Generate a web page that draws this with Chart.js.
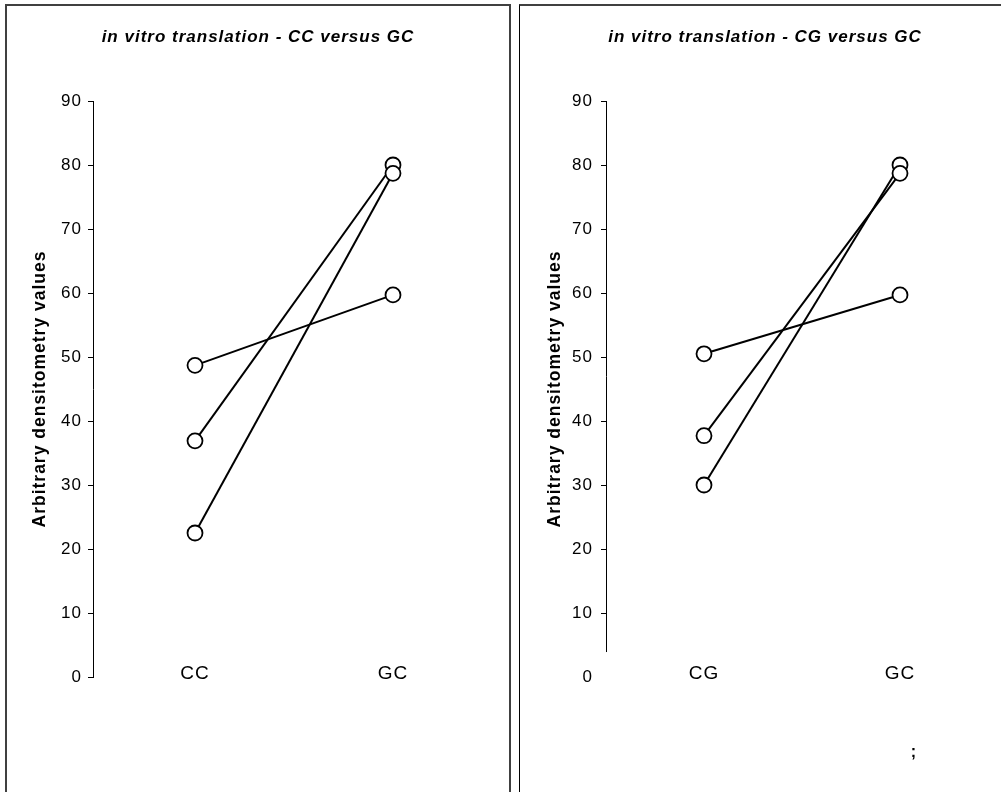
<!DOCTYPE html>
<html>
<head>
<meta charset="utf-8">
<title>in vitro translation</title>
<script src="https://cdn.jsdelivr.net/npm/chart.js@4.4.1/dist/chart.umd.min.js"></script>
<style>
  html, body { margin: 0; padding: 0; background: #fff; }
  body { width: 1001px; height: 792px; overflow: hidden; position: relative; }
  .panel { position: absolute; box-sizing: border-box; }
  #p1 { left: 5px; top: 4px; width: 506px; height: 820px; border: 2px solid #404040; }
  #p2 { left: 519px; top: 4px; width: 600px; height: 820px; border-top: 2px solid #404040; border-left: 1px solid #000; }
  canvas { position: absolute; }
  #c1 { left: 7px; top: 6px; }
  #c2 { left: 520px; top: 6px; }
</style>
</head>
<body>
<div class="panel" id="p1"></div>
<div class="panel" id="p2"></div>
<canvas id="c1" width="502" height="786"></canvas>
<canvas id="c2" width="490" height="786"></canvas>
<script>
// Y axis ticks shared by both panels
const yTicks = [0, 10, 20, 30, 40, 50, 60, 70, 80, 90];
const yTitle = 'Arbitrary densitometry values';

// Left panel: CC versus GC (each pair is one experiment)
const leftTitle = 'in vitro translation - CC versus GC';
const leftCategories = ['CC', 'GC'];
const leftFirst = [48.7, 22.5, 36.9];
const leftSecond = [59.7, 78.7, 80.0];

// Right panel: CG versus GC
const rightTitle = 'in vitro translation - CG versus GC';
const rightCategories = ['CG', 'GC'];
const rightFirst = [50.5, 37.7, 30.0];
const rightSecond = [59.7, 78.7, 80.0];

// The right panel's y axis line stops short of zero
const rightAxisEnd = 3.9;

const FONT = '"Liberation Sans", Arial, sans-serif';
Chart.defaults.font.family = FONT;
Chart.defaults.color = '#000';

// Slightly spaced lettering for all text
const spacing = {
  id: 'spacing',
  beforeDraw(chart) { chart.ctx.letterSpacing = '1px'; }
};

function makeChart(el, cfg) {
  const datasets = cfg.first.map((v, i) => ({
    data: [{ x: 0, y: v }, { x: 1, y: cfg.second[i] }],
    showLine: true,
    borderColor: '#000',
    borderWidth: 2,
    backgroundColor: '#fff',
    pointRadius: 7.5,
    pointBorderWidth: 1.8,
    pointBackgroundColor: '#fff',
    pointBorderColor: '#000',
    tension: 0
  }));

  const extra = {
    id: 'extra',
    afterDraw(chart) {
      const ctx = chart.ctx;
      const y = chart.scales.y;
      const area = chart.chartArea;
      ctx.save();
      if (!cfg.fullAxis) {
        ctx.strokeStyle = '#000';
        ctx.lineWidth = 1;
        ctx.beginPath();
        const x = Math.round(area.left) + 0.5;
        ctx.moveTo(x, y.getPixelForValue(90));
        ctx.lineTo(x, y.getPixelForValue(rightAxisEnd));
        ctx.stroke();
      }
      if (cfg.mark) {
        ctx.fillStyle = '#000';
        ctx.font = 'bold 16px ' + FONT;
        ctx.textAlign = 'center';
        ctx.textBaseline = 'alphabetic';
        ctx.fillText(cfg.mark.text, cfg.mark.x, cfg.mark.y);
      }
      ctx.restore();
    }
  };

  return new Chart(el, {
    type: 'scatter',
    data: { datasets },
    options: {
      responsive: false,
      animation: false,
      events: [],
      layout: { padding: 0, autoPadding: false },
      plugins: {
        legend: { display: false },
        tooltip: { enabled: false },
        title: {
          display: true,
          text: cfg.title,
          color: '#000',
          font: { family: FONT, size: 17, weight: 'bold', style: 'italic', lineHeight: 1.2 },
          padding: { top: 20.8, bottom: 53.8 }
        }
      },
      scales: {
        x: {
          type: 'linear',
          min: cfg.xMin,
          max: cfg.xMax,
          grid: { display: false },
          border: { display: false },
          afterBuildTicks: s => { s.ticks = cfg.categories.map((c, i) => ({ value: i })); },
          afterFit: s => { s.height = 115; },
          ticks: {
            mirror: true,
            padding: -8,
            color: '#000',
            font: { family: FONT, size: 19 },
            callback: v => cfg.categories[v] ?? ''
          }
        },
        y: {
          min: 0,
          max: 90,
          afterBuildTicks: s => { s.ticks = yTicks.map(v => ({ value: v })); },
          afterFit: s => { s.width = 86; },
          grid: {
            drawOnChartArea: false,
            drawTicks: true,
            tickLength: 5,
            lineWidth: 1,
            color: c => (!cfg.fullAxis && c.tick && c.tick.value === 0) ? 'rgba(0,0,0,0)' : '#000'
          },
          border: { display: cfg.fullAxis, color: '#000', width: 1 },
          ticks: {
            padding: cfg.tickPad,
            color: '#000',
            font: { family: FONT, size: 17 }
          },
          title: {
            display: true,
            text: yTitle,
            color: '#000',
            font: { family: FONT, size: 17.5, weight: 'bold', lineHeight: 1.2 },
            padding: { top: cfg.titlePad, bottom: 0 }
          }
        }
      }
    },
    plugins: [spacing, extra]
  });
}

makeChart(document.getElementById('c1'), {
  title: leftTitle,
  categories: leftCategories,
  first: leftFirst,
  second: leftSecond,
  xMin: -0.5152,
  xMax: 1.5859,
  tickPad: 6,
  titlePad: 22.5,
  fullAxis: true
});

makeChart(document.getElementById('c2'), {
  title: rightTitle,
  categories: rightCategories,
  first: rightFirst,
  second: rightSecond,
  xMin: -0.5,
  xMax: 1.5612,
  tickPad: 8,
  titlePad: 24.5,
  fullAxis: false,
  mark: { text: ';', x: 394, y: 751 }
});
</script>
</body>
</html>
